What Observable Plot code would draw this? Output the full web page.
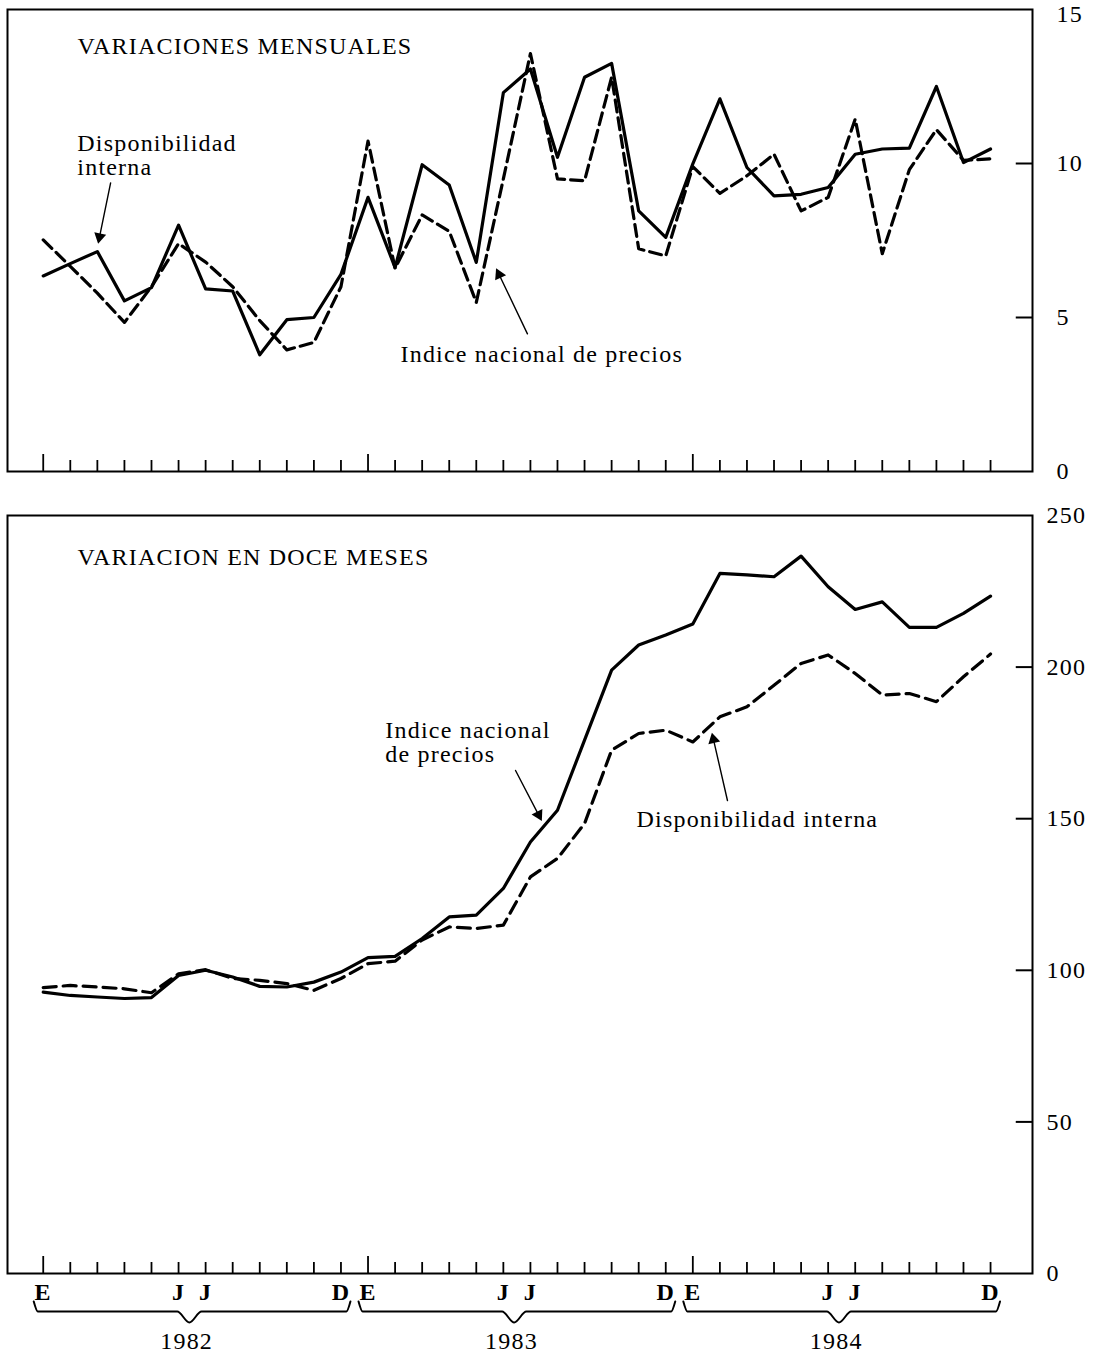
<!DOCTYPE html>
<html><head><meta charset="utf-8">
<script src="https://cdn.jsdelivr.net/npm/d3@7"></script>
<script src="https://cdn.jsdelivr.net/npm/@observablehq/plot@0.6"></script>
<style>
body{margin:0;background:#fff;}
#wrap{position:relative;width:1110px;height:1364px;overflow:hidden;background:#fff;}
#panelTop{position:absolute;left:0;top:0;}
#panelBot{position:absolute;left:0;top:500px;}
</style></head><body><div id="wrap"><div id="panelTop"></div><div id="panelBot"></div></div>
<script>
// ---- data ----
const meses = d3.range(36); // enero 1982 .. diciembre 1984
const etiquetasMes = ["E", "J", "J", "D"];
const posicionMes = [0, 5, 6, 11];
const anios = ["1982", "1983", "1984"];

// Variaciones mensuales (%)
const mensualContinua = [6.35, 6.75, 7.14, 5.54, 5.97, 8.0, 5.93, 5.86, 3.79, 4.93, 5.0, 6.4,
  8.9, 6.62, 9.96, 9.3, 6.79, 12.3, 13.07, 10.2, 12.8, 13.25, 8.46, 7.6,
  9.99, 12.1, 9.87, 8.95, 9.0, 9.22, 10.3, 10.47, 10.5, 12.5, 10.03, 10.47];
const mensualDiscontinua = [7.52, 6.66, 5.79, 4.84, 6.0, 7.4, 6.8, 6.0, 4.9, 3.95, 4.19, 6.0,
  10.73, 6.6, 8.33, 7.8, 5.49, 9.5, 13.57, 9.5, 9.44, 12.8, 7.23, 7.0,
  9.9, 9.03, 9.6, 10.3, 8.46, 8.9, 11.44, 7.07, 9.8, 11.1, 10.1, 10.15];

// Variacion en doce meses (%)
const doceINPC = [92.8, 91.7, 91.2, 90.7, 91.0, 98.3, 100.0, 97.8, 94.7, 94.5, 96.1, 99.4,
  104.2, 104.6, 110.5, 117.6, 118.2, 127.0, 142.3, 152.8, 175.9, 199.0, 207.3, 210.6,
  214.2, 230.9, 230.4, 229.8, 236.6, 226.5, 219.0, 221.5, 213.1, 213.1, 217.7, 223.4];
const doceDisponibilidad = [94.3, 95.0, 94.5, 93.9, 92.6, 98.8, 100.2, 97.3, 96.7, 95.6, 93.4, 97.3,
  102.2, 103.0, 110.0, 114.3, 113.8, 114.9, 130.8, 136.9, 148.4, 172.6, 178.1, 179.2,
  175.3, 183.6, 186.9, 194.0, 201.2, 204.0, 197.9, 190.8, 191.3, 188.6, 196.8, 204.3];

const ticksMensual = [0, 5, 10];
const tickMensualMax = [15];
const ticksDoce = [0, 50, 100, 150, 200, 250];

// annotation arrows (data units: month index, value)
const flechasMensual = [{x1: 2.49, y1: 9.37, x2: 2.05, y2: 7.49}, {x1: 17.89, y1: 4.47, x2: 16.78, y2: 6.51}];
const flechasDoce = [{x1: 17.45, y1: 165.9, x2: 18.37, y2: 150.1}, {x1: 25.28, y1: 156.0, x2: 24.73, y2: 177.4}];

// ---- shared settings ----
const FONT = "'Liberation Serif', 'Times New Roman', serif";
const FS = 24;
const W = 1110, ML = 7, MR = 78;
const xDomain = [-1.32, 36.55];
const pxX = (W - ML - MR) / (xDomain[1] - xDomain[0]);
const common = {
  width: W, marginLeft: ML, marginRight: MR,
  x: {domain: xDomain, axis: null},
  style: {fontFamily: FONT, background: "#fff", color: "#000", letterSpacing: "1.2px", overflow: "visible"}
};
// filled arrowhead triangles placed at the tips, rotated along each arrow
function cabezas(flechas, pxY) {
  return flechas.map(f => {
    const dx = (f.x2 - f.x1) * pxX, dy = -(f.y2 - f.y1) * pxY;
    const len = Math.hypot(dx, dy);
    const back = 4;
    return {
      x: f.x2 - (dx / len) * back / pxX,
      y: f.y2 + (dy / len) * back / pxY,
      rot: Math.atan2(dx, -dy) * 180 / Math.PI
    };
  });
}

// ---- top panel ----
const topH = 500, topMT = 9, topMB = 29;
const pxTop = (topH - topMT - topMB) / 15; // px per unit
const chartTop = Plot.plot({
  ...common, height: topH, marginTop: topMT, marginBottom: topMB,
  y: {domain: [0, 15], axis: null},
  marks: [
    Plot.frame({stroke: "#000", strokeWidth: 2}),
    Plot.ruleX(meses, {x: d => d, y1: 0, y2: d => (d % 12 === 0 ? 17 : 11) / pxTop, stroke: "#000", strokeWidth: 1.8}),
    Plot.ruleY([5, 10], {y: d => d, x1: xDomain[1] - 0.6, x2: xDomain[1], stroke: "#000", strokeWidth: 2}),
    Plot.axisY({anchor: "right", ticks: ticksMensual, tickSize: 0, tickPadding: 24, fontSize: FS, textAnchor: "start"}),
    Plot.axisY({anchor: "right", ticks: tickMensualMax, tickSize: 0, tickPadding: 24, fontSize: FS, textAnchor: "start", dy: 5}),
    Plot.line(meses, {x: d => d, y: i => mensualDiscontinua[i], stroke: "#000", strokeWidth: 3.2, strokeDasharray: "12,6"}),
    Plot.line(meses, {x: d => d, y: i => mensualContinua[i], stroke: "#000", strokeWidth: 3.2}),
    Plot.text(["VARIACIONES MENSUALES"], {x: 1.27, y: 14.1, text: d => d, textAnchor: "start", lineAnchor: "top", fontSize: FS}),
    Plot.text(["Disponibilidad\ninterna"], {x: 1.26, y: 10.95, text: d => d, textAnchor: "start", lineAnchor: "top", fontSize: FS, lineHeight: 1.0}),
    Plot.text(["Indice nacional de precios"], {x: 13.2, y: 4.1, text: d => d, textAnchor: "start", lineAnchor: "top", fontSize: FS}),
    Plot.arrow(flechasMensual, {x1: "x1", y1: "y1", x2: "x2", y2: "y2", stroke: "#000", strokeWidth: 1.4, headLength: 0}),
    Plot.dot(cabezas(flechasMensual, pxTop), {x: "x", y: "y", rotate: "rot", symbol: "triangle", r: 4.5, fill: "#000", stroke: "none"})
  ]
});
document.getElementById("panelTop").appendChild(chartTop);

// ---- bottom panel ----
const botH = 864, botMT = 15, botMB = 91;
const pxBot = (botH - botMT - botMB) / 250;
const etiquetas = anios.flatMap((a, k) => posicionMes.map((p, j) => ({x: p + 12 * k, t: etiquetasMes[j]})));
const llaves = anios.flatMap((a, k) => {
  const s = 12 * k, e = 12 * k + 11, c = s + 5.4;
  const base = -38 / pxBot, hook = -28 / pxBot, tip = -49 / pxBot;
  return [[s - 0.35, hook], [s - 0.2, base], [c - 0.45, base], [c, tip], [c + 0.45, base], [e + 0.2, base], [e + 0.35, hook]]
    .map(([x, y]) => ({x, y, a}));
});
const chartBot = Plot.plot({
  ...common, height: botH, marginTop: botMT, marginBottom: botMB,
  y: {domain: [0, 250], axis: null},
  marks: [
    Plot.frame({stroke: "#000", strokeWidth: 2}),
    Plot.ruleX(meses, {x: d => d, y1: 0, y2: d => (d % 12 === 0 ? 17 : 11) / pxBot, stroke: "#000", strokeWidth: 1.8}),
    Plot.ruleY([50, 100, 150, 200], {y: d => d, x1: xDomain[1] - 0.6, x2: xDomain[1], stroke: "#000", strokeWidth: 2}),
    Plot.axisY({anchor: "right", ticks: ticksDoce, tickSize: 0, tickPadding: 14, fontSize: FS, textAnchor: "start"}),
    Plot.line(meses, {x: d => d, y: i => doceDisponibilidad[i], stroke: "#000", strokeWidth: 3.2, strokeDasharray: "13,7"}),
    Plot.line(meses, {x: d => d, y: i => doceINPC[i], stroke: "#000", strokeWidth: 3.2}),
    Plot.text(["VARIACION EN DOCE MESES"], {x: 1.27, y: 239.2, text: d => d, textAnchor: "start", lineAnchor: "top", fontSize: FS}),
    Plot.text(["Indice nacional\nde precios"], {x: 12.64, y: 182.3, text: d => d, textAnchor: "start", lineAnchor: "top", fontSize: FS, lineHeight: 1.0}),
    Plot.text(["Disponibilidad interna"], {x: 21.92, y: 152.8, text: d => d, textAnchor: "start", lineAnchor: "top", fontSize: FS}),
    Plot.arrow(flechasDoce, {x1: "x1", y1: "y1", x2: "x2", y2: "y2", stroke: "#000", strokeWidth: 1.4, headLength: 0}),
    Plot.dot(cabezas(flechasDoce, pxBot), {x: "x", y: "y", rotate: "rot", symbol: "triangle", r: 4.5, fill: "#000", stroke: "none"}),
    Plot.text(etiquetas, {x: "x", y: 0, text: "t", dy: 19, fontSize: FS, fontWeight: "bold"}),
    Plot.line(llaves, {x: "x", y: "y", z: "a", stroke: "#000", strokeWidth: 2, curve: "monotone-x"}),
    Plot.text(anios, {x: (d, k) => 12 * k + 5.3, y: 0, text: d => d, dy: 68, fontSize: FS})
  ]
});
document.getElementById("panelBot").appendChild(chartBot);
</script></body></html>
